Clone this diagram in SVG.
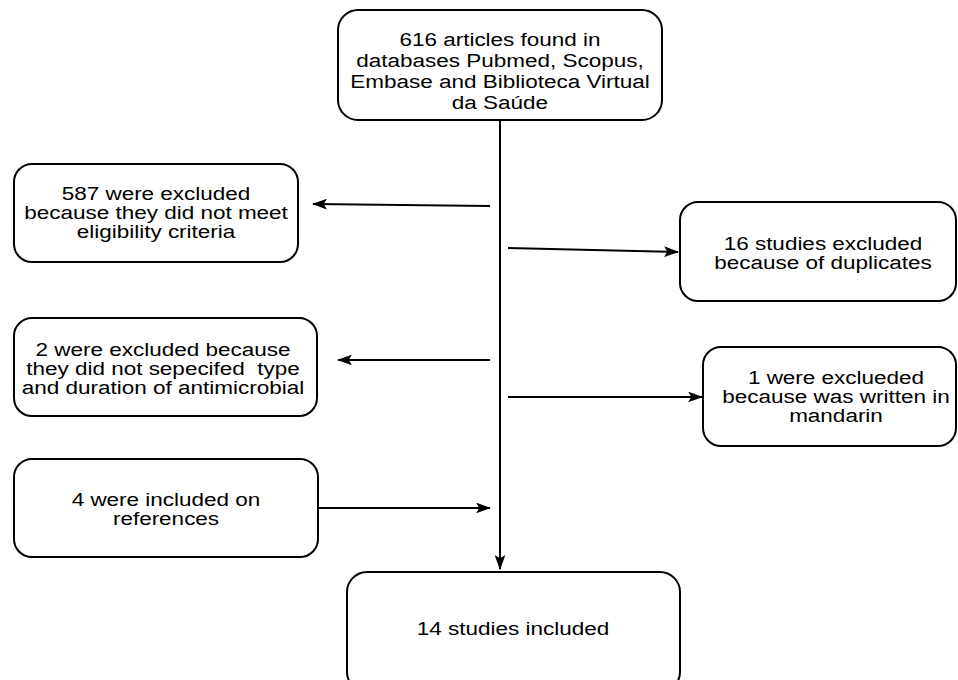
<svg xmlns="http://www.w3.org/2000/svg" width="958" height="680" viewBox="0 0 958 680">
<style>
.box{fill:#fff;stroke:#000;stroke-width:2}
.t{font-family:"Liberation Sans",Arial,sans-serif;font-size:18px;fill:#000;text-anchor:middle;white-space:pre}
.c{fill:none;stroke:#000;stroke-width:2}
</style>
<defs>
<marker id="ah" viewBox="0 0 14 10" refX="13" refY="5" markerWidth="15" markerHeight="11" markerUnits="userSpaceOnUse" orient="auto">
<path d="M0,0 L14,5 L0,10 L3,5 Z" fill="#000"/>
</marker>
</defs>
<rect width="958" height="680" fill="#fff"/>
<g id="connectors">
<line class="c" x1="500" y1="121" x2="500" y2="569" marker-end="url(#ah)"/>
<line class="c" x1="490" y1="206" x2="313" y2="204" marker-end="url(#ah)"/>
<line class="c" x1="508" y1="248" x2="678" y2="252" marker-end="url(#ah)"/>
<line class="c" x1="490" y1="360" x2="338" y2="360" marker-end="url(#ah)"/>
<line class="c" x1="508" y1="397" x2="702" y2="397" marker-end="url(#ah)"/>
<line class="c" x1="318" y1="508" x2="490" y2="508" marker-end="url(#ah)"/>
</g>
<g id="n-start">
<rect class="box" x="338" y="10" width="324" height="110" rx="20"/>
<g transform="translate(500 0) scale(1.25 1)">
<text class="t" x="0" y="46">616 articles found in</text>
<text class="t" x="0" y="67">databases Pubmed, Scopus,</text>
<text class="t" x="0" y="88">Embase and Biblioteca Virtual</text>
<text class="t" x="0" y="109">da Saúde</text>
</g>
</g>
<g id="n-587">
<rect class="box" x="14" y="164" width="284" height="98" rx="18"/>
<g transform="translate(156 0) scale(1.25 1)">
<text class="t" x="0" y="200">587 were excluded</text>
<text class="t" x="0" y="219">because they did not meet</text>
<text class="t" x="0" y="238">eligibility criteria</text>
</g>
</g>
<g id="n-16">
<rect class="box" x="680" y="202" width="276" height="99" rx="18"/>
<g transform="translate(823 0) scale(1.25 1)">
<text class="t" x="0" y="250">16 studies excluded</text>
<text class="t" x="0" y="269">because of duplicates</text>
</g>
</g>
<g id="n-2">
<rect class="box" x="14" y="318" width="303" height="98" rx="18"/>
<g transform="translate(163 0) scale(1.25 1)">
<text class="t" x="0" y="356">2 were excluded because</text>
<text class="t" x="0" y="375">they did not sepecifed  type</text>
<text class="t" x="0" y="394">and duration of antimicrobial</text>
</g>
</g>
<g id="n-1">
<rect class="box" x="703" y="347" width="253" height="99" rx="18"/>
<g transform="translate(836 0) scale(1.25 1)">
<text class="t" x="0" y="384">1 were exclueded</text>
<text class="t" x="0" y="403">because was written in</text>
<text class="t" x="0" y="422">mandarin</text>
</g>
</g>
<g id="n-4">
<rect class="box" x="14" y="459" width="304" height="98" rx="18"/>
<g transform="translate(166 0) scale(1.25 1)">
<text class="t" x="0" y="506">4 were included on</text>
<text class="t" x="0" y="525">references</text>
</g>
</g>
<g id="n-14">
<rect class="box" x="347" y="572" width="333" height="120" rx="20"/>
<g transform="translate(513 0) scale(1.25 1)">
<text class="t" x="0" y="635">14 studies included</text>
</g>
</g>
</svg>
